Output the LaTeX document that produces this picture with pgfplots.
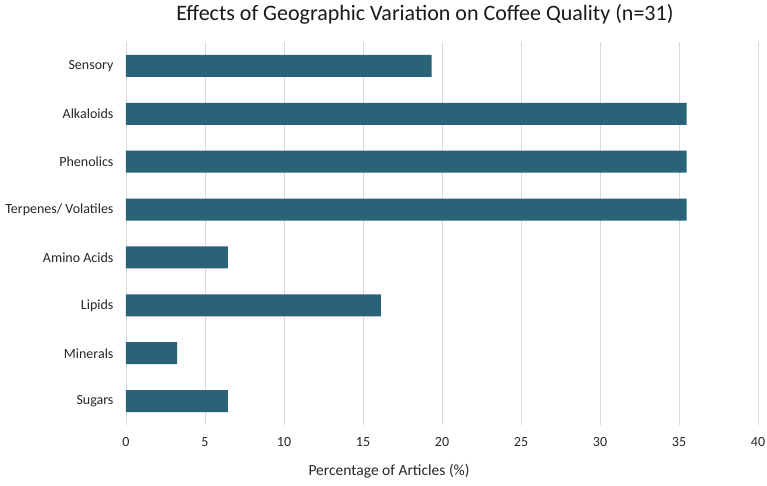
\documentclass[border=0pt]{standalone}
\usepackage{pgfplots}
\pgfplotsset{compat=1.18}
\usepackage{fontspec}
\setmainfont{Carlito}
\definecolor{barcol}{HTML}{2A6378}
\definecolor{gridcol}{HTML}{D9D9D9}
\begin{document}
\begin{tikzpicture}[x=1pt,y=1pt]
\useasboundingbox (-126,-61) rectangle (641,425);
\begin{axis}[
  at={(0,0)}, anchor=south west,
  scale only axis, width=632pt, height=383pt,
  xbar, bar width=22pt,
  xmin=0, xmax=40, xtick={0,5,...,40},
  ymin=-0.5, ymax=7.5, y dir=reverse,
  ytick={0,1,2,3,4,5,6,7},
  yticklabels={Sensory,Alkaloids,Phenolics,Terpenes/ Volatiles,Amino Acids,Lipids,Minerals,Sugars},
  axis line style={draw=none},
  major tick length=0pt,
  xmajorgrids, grid style={gridcol, line width=0.9pt},
  tick label style={font=\fontsize{14}{16}\selectfont, text=black!85},
  /pgf/number format/assume math mode=true,
  xticklabel style={yshift=-9pt},
  yticklabel style={xshift=-9pt},
  xlabel={Percentage of Articles (\%)},
  xlabel style={font=\fontsize{15.5}{17}\selectfont, text=black!85, yshift=-11pt, xshift=-53pt},
  title={Effects of Geographic Variation on Coffee Quality (n=31)},
  title style={font=\fontsize{22}{26}\selectfont, text=black!90, yshift=8pt, xshift=-17pt},
]
\addplot[fill=barcol, draw=none] coordinates {
(19.35,0) (35.48,1) (35.48,2) (35.48,3) (6.45,4) (16.13,5) (3.23,6) (6.45,7)};
\end{axis}
\end{tikzpicture}
\end{document}
